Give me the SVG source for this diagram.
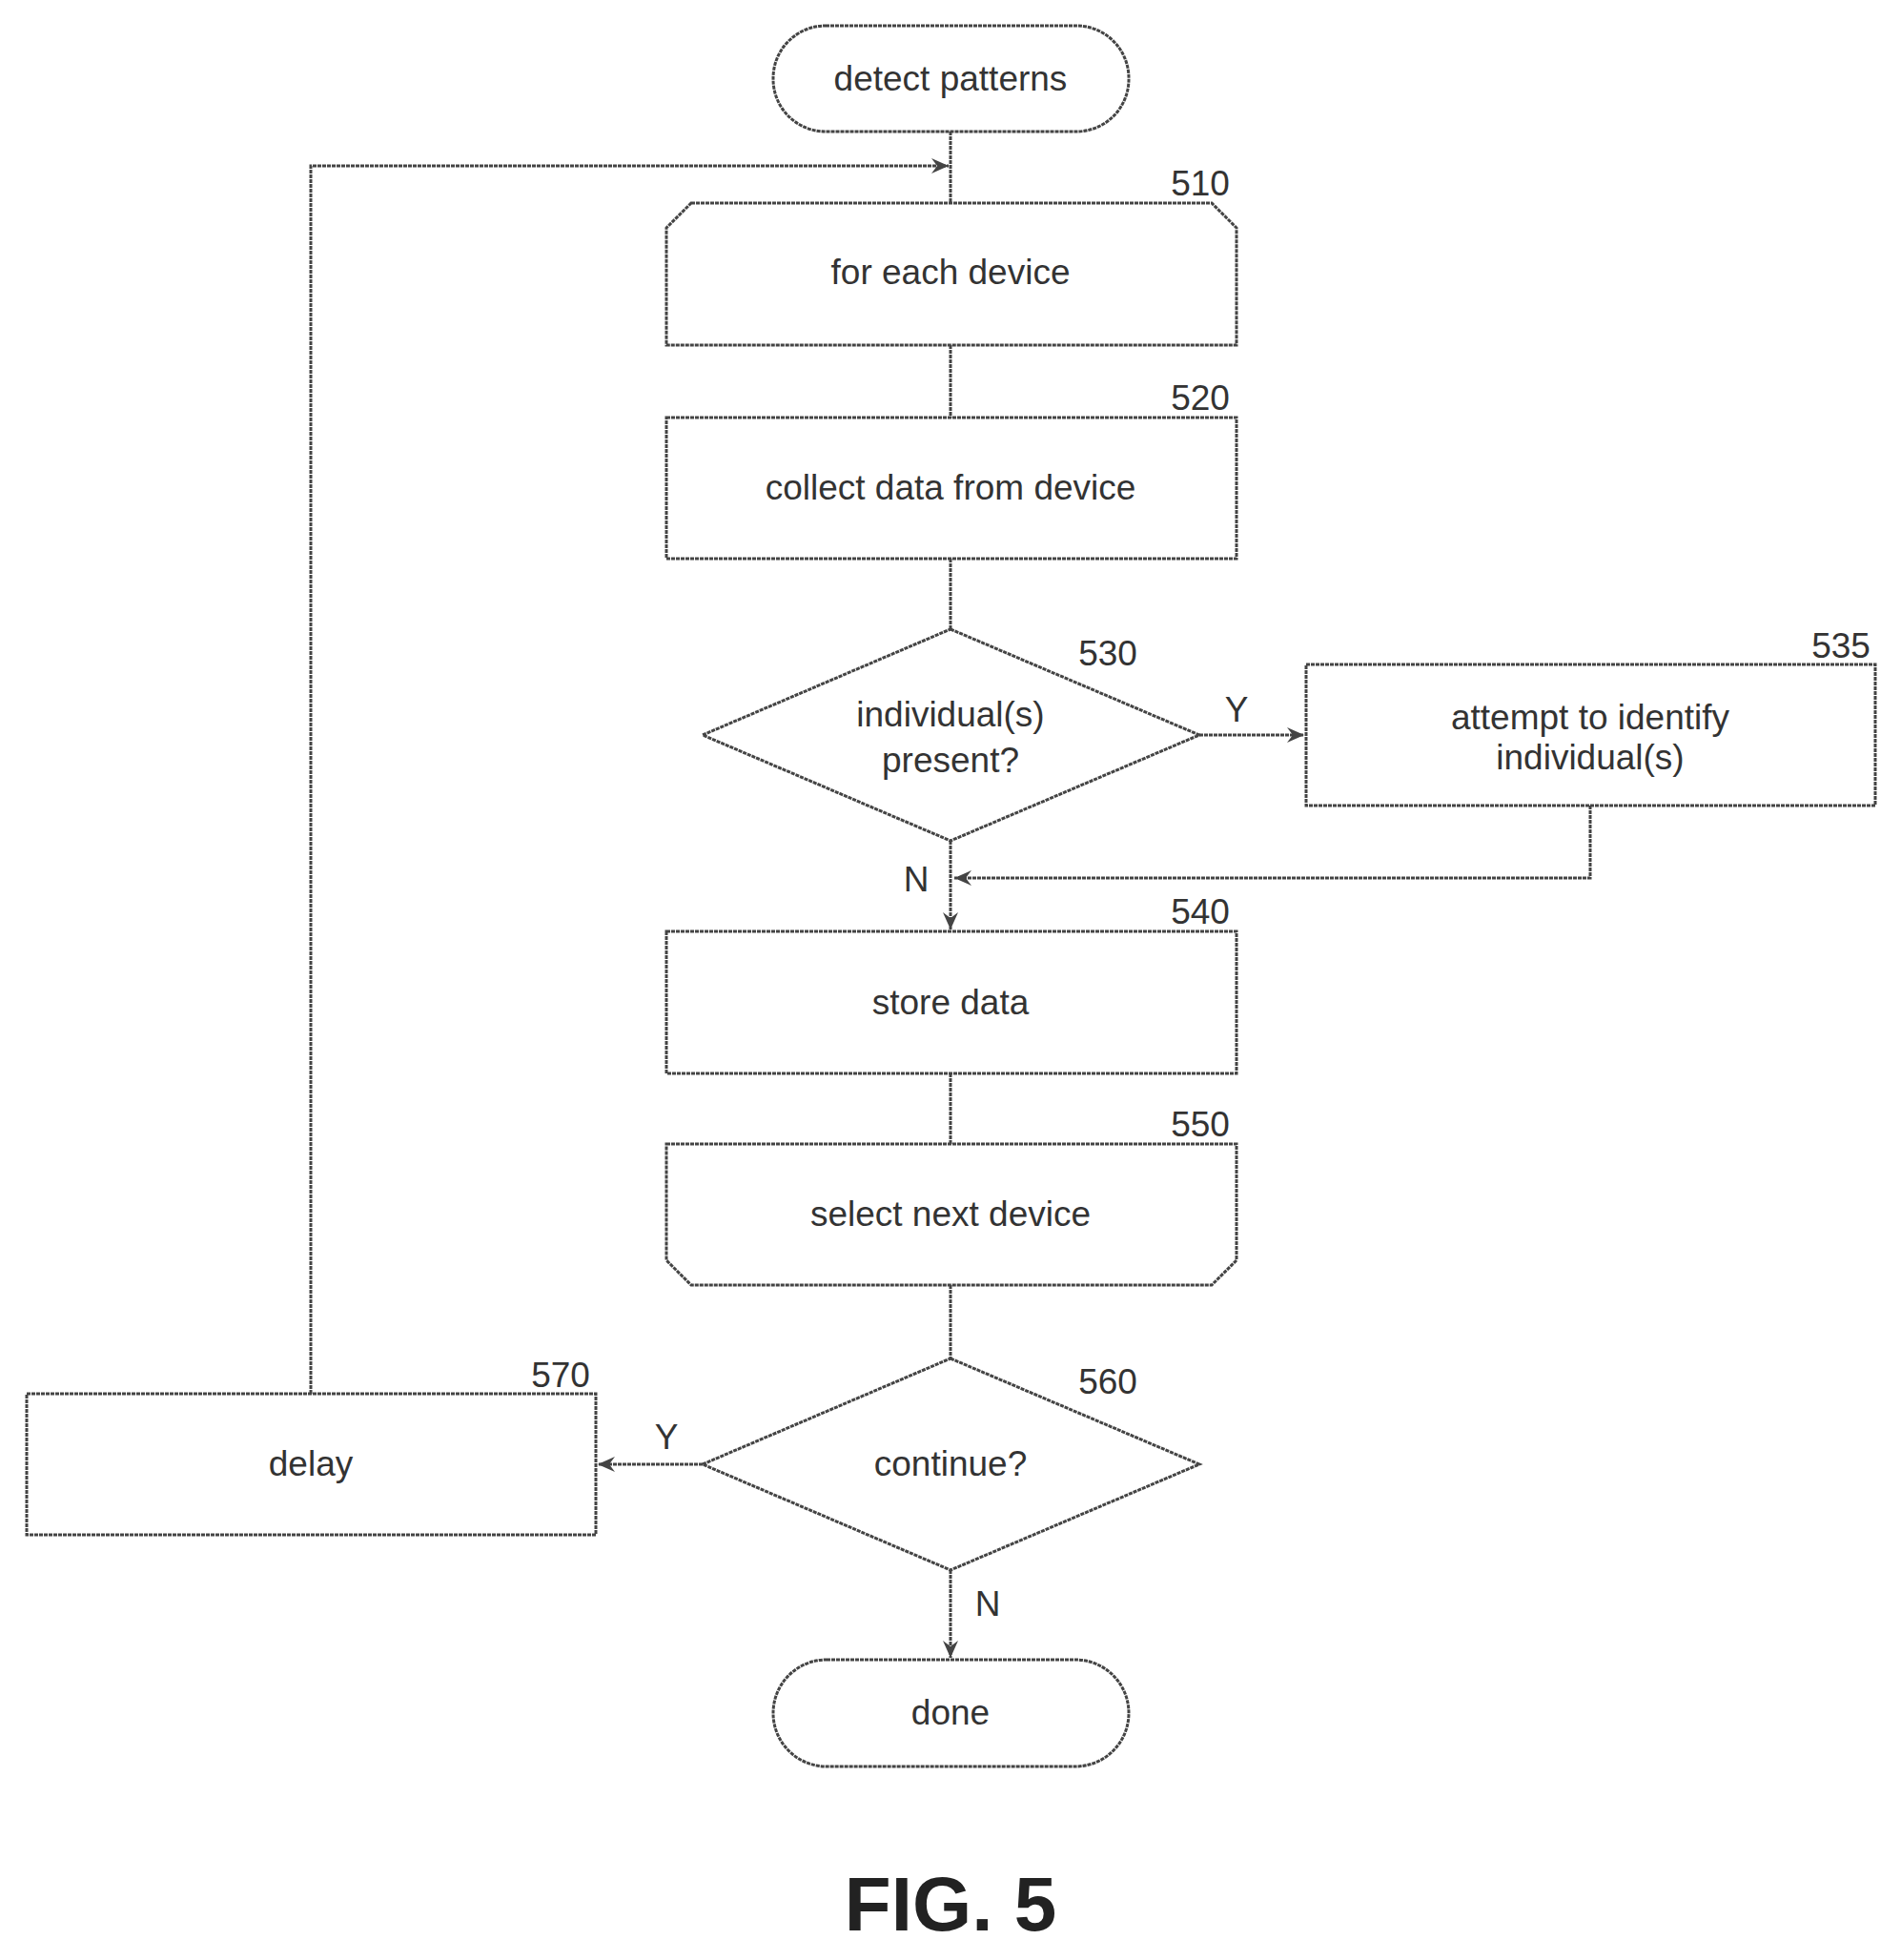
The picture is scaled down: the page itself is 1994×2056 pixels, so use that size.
<svg xmlns="http://www.w3.org/2000/svg" width="1994" height="2056" viewBox="0 0 1994 2056">
<defs>
<style>
.s{fill:#fff;stroke:#444;stroke-width:3;stroke-dasharray:4 1}
.l{fill:none;stroke:#444;stroke-width:3;stroke-dasharray:4 1}
text{font-family:"Liberation Sans",Arial,sans-serif;font-size:37px;fill:#333;text-anchor:middle}
</style>
<marker id="a" viewBox="0 0 20 20" refX="18" refY="10" markerWidth="20" markerHeight="20" markerUnits="userSpaceOnUse" orient="auto"><path d="M0,2 L18,10 L0,18 L6,10 Z" fill="#444"/></marker>
</defs>
<rect width="1994" height="2056" fill="#fff"/>
<g transform="translate(7,5)">
<g id="connectors">
<path class="l" d="M990,133 V208"/>
<path class="l" d="M319,1457 V169 H988" marker-end="url(#a)"/>
<path class="l" d="M990,357 V433"/>
<path class="l" d="M990,581 V655"/>
<path class="l" d="M1251,766 H1361" marker-end="url(#a)"/>
<text x="1290" y="752">Y</text>
<path class="l" d="M990,877 V970" marker-end="url(#a)"/>
<text x="954" y="930">N</text>
<path class="l" d="M1661,840 V916 H994" marker-end="url(#a)"/>
<path class="l" d="M990,1121 V1195"/>
<path class="l" d="M990,1343 V1420"/>
<path class="l" d="M730,1531 H620" marker-end="url(#a)"/>
<text x="692" y="1515">Y</text>
<path class="l" d="M990,1642 V1734" marker-end="url(#a)"/>
<text x="1029" y="1690">N</text>
</g>
<g id="start"><rect class="s" x="804" y="22" width="373" height="111" rx="55"/><text x="990" y="90">detect patterns</text></g>
<g id="n510"><path class="s" d="M718,208 H1264 L1290,234 V357 H692 V234 Z"/><text x="990" y="293">for each device</text><text x="1252" y="200">510</text></g>
<g id="n520"><rect class="s" x="692" y="433" width="598" height="148"/><text x="990" y="519">collect data from device</text><text x="1252" y="425">520</text></g>
<g id="n530"><path class="s" d="M990,655 L1251,766 L990,877 L730,766 Z"/><text x="990" y="757">individual(s)</text><text x="990" y="805">present?</text><text x="1155" y="693">530</text></g>
<g id="n535"><rect class="s" x="1363" y="692" width="597" height="148"/><text x="1661" y="760">attempt to identify</text><text x="1661" y="802">individual(s)</text><text x="1924" y="685">535</text></g>
<g id="n540"><rect class="s" x="692" y="972" width="598" height="149"/><text x="990" y="1059">store data</text><text x="1252" y="964">540</text></g>
<g id="n550"><path class="s" d="M692,1195 H1290 V1317 L1264,1343 H718 L692,1317 Z"/><text x="990" y="1281">select next device</text><text x="1252" y="1187">550</text></g>
<g id="n560"><path class="s" d="M990,1420 L1251,1531 L990,1642 L730,1531 Z"/><text x="990" y="1543">continue?</text><text x="1155" y="1457">560</text></g>
<g id="n570"><rect class="s" x="21" y="1457" width="597" height="148"/><text x="319" y="1543">delay</text><text x="581" y="1450">570</text></g>
<g id="done"><rect class="s" x="804" y="1736" width="373" height="112" rx="56"/><text x="990" y="1804">done</text></g>
<text x="990" y="2020" style="font-size:80px;font-weight:bold;fill:#222">FIG. 5</text>
</g>
</svg>
